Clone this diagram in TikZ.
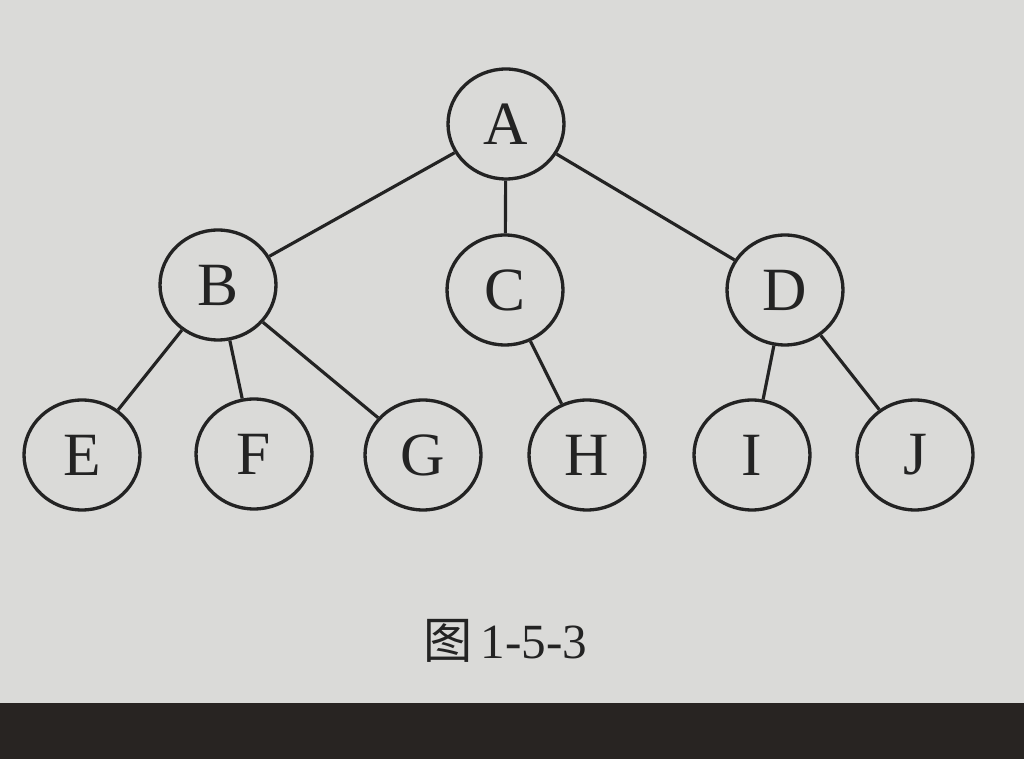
\documentclass[tikz,border=0pt]{standalone}
\usepackage{fontspec}
\setmainfont{Liberation Serif}
\newfontfamily\cjk{Noto Sans CJK SC}
\usetikzlibrary{shapes.geometric}
\definecolor{paper}{RGB}{218,218,216}
\definecolor{ink}{RGB}{35,35,35}
\definecolor{edge}{RGB}{40,36,34}
\tikzset{
  tnode/.style={ellipse, draw=ink, line width=1.9pt, minimum width=2.32cm, minimum height=2.2cm, inner sep=0pt, font=\fontsize{35}{40}\selectfont, text=ink},
  tedge/.style={draw=ink, line width=1.8pt}
}
\begin{document}
\begin{tikzpicture}[x=0.02cm,y=-0.02cm]
\fill[paper] (0,0) rectangle (1024,759);
\fill[edge] (0,703) rectangle (1024,759);
\useasboundingbox (0,0) rectangle (1024,759);
\node[tnode] (A) at (506,124) {A};
\node[tnode] (B) at (218,285) {B};
\node[tnode] (C) at (505,290) {C};
\node[tnode] (D) at (785,290) {D};
\node[tnode] (E) at (82,455) {E};
\node[tnode] (F) at (254,454) {F};
\node[tnode] (G) at (423,455) {G};
\node[tnode] (H) at (587,455) {H};
\node[tnode] (I) at (752,455) {I};
\node[tnode] (J) at (915,455) {J};
\draw[tedge] (A) -- (B);
\draw[tedge] (A) -- (C);
\draw[tedge] (A) -- (D);
\draw[tedge] (B) -- (E);
\draw[tedge] (B) -- (F);
\draw[tedge] (B) -- (G);
\draw[tedge] (C) -- (H);
\draw[tedge] (D) -- (I);
\draw[tedge] (D) -- (J);
\node[text=ink, font=\fontsize{28}{32}\selectfont] (cap) at (505,641) {{\cjk 图}\,1-5-3};
\end{tikzpicture}
\end{document}
